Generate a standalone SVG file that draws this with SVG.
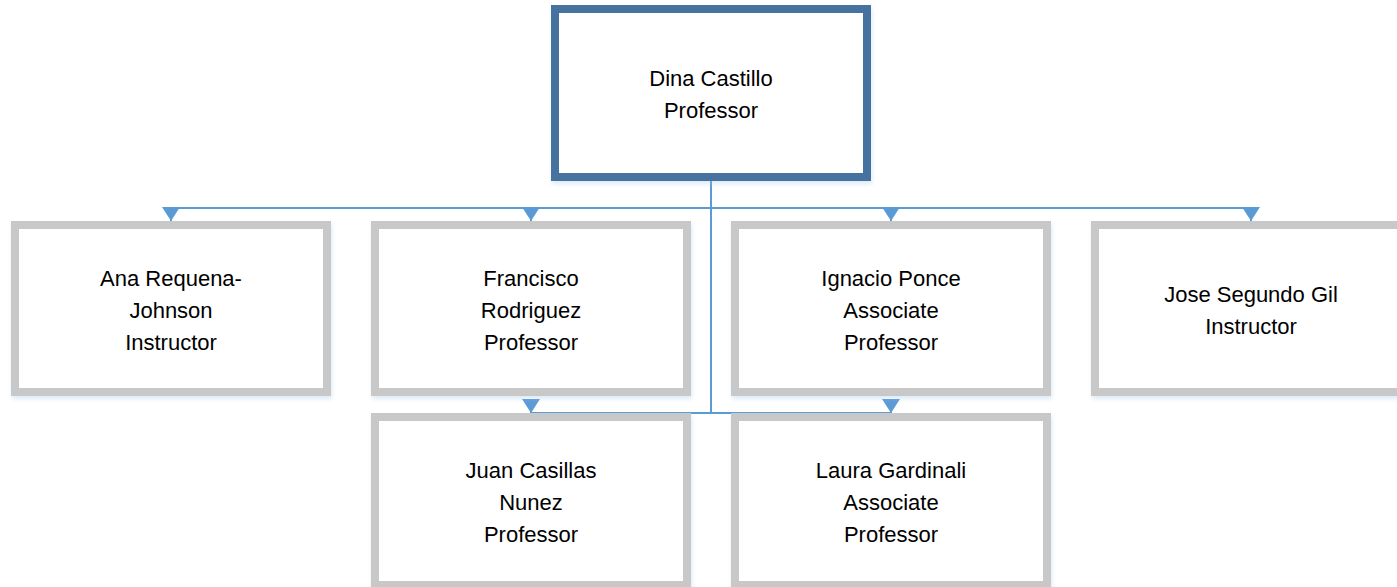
<svg xmlns="http://www.w3.org/2000/svg" width="1397" height="587" viewBox="0 0 1397 587">
<style>
.box{fill:#FFFFFF;stroke:#C8C8C8;stroke-width:8;filter:url(#sh)}
.root{fill:#FFFFFF;stroke:#44729E;stroke-width:8;filter:url(#sh)}
.lbl{font-family:"Liberation Sans",Arial,sans-serif;font-size:22px;fill:#000000;text-anchor:middle}
.conn{fill:none;stroke:#5B9BD5;stroke-width:2;marker-end:url(#arr)}
</style>
<defs>
<filter id="sh" x="-5%" y="-5%" width="115%" height="120%">
<feDropShadow dx="1" dy="3" stdDeviation="2" flood-color="#9DC3E6" flood-opacity="0.35"/>
</filter>
<marker id="arr" markerUnits="userSpaceOnUse" viewBox="0 0 14 18" markerWidth="14" markerHeight="18" refX="14" refY="9" orient="auto">
<path d="M0,0 L14,9 L0,18 z" fill="#5B9BD5"/>
</marker>
</defs>
<g id="connectors">
<path class="conn" d="M711,181 V208 H171 V221"/>
<path class="conn" d="M711,208 H531 V221"/>
<path class="conn" d="M711,208 H891 V221"/>
<path class="conn" d="M711,208 H1251 V221"/>
<path class="conn" d="M711,208 V413 H531 M531,399 V413"/>
<path class="conn" d="M711,413 H891 M891,399 V413"/>
</g>
<g id="dina">
<rect class="root" x="555" y="9" width="312" height="168"/>
<text class="lbl" x="711" y="86">Dina Castillo</text>
<text class="lbl" x="711" y="118">Professor</text>
</g>
<g id="ana">
<rect class="box" x="15" y="225" width="312" height="167"/>
<text class="lbl" x="171" y="286">Ana Requena-</text>
<text class="lbl" x="171" y="318">Johnson</text>
<text class="lbl" x="171" y="350">Instructor</text>
</g>
<g id="francisco">
<rect class="box" x="375" y="225" width="312" height="167"/>
<text class="lbl" x="531" y="286">Francisco</text>
<text class="lbl" x="531" y="318">Rodriguez</text>
<text class="lbl" x="531" y="350">Professor</text>
</g>
<g id="ignacio">
<rect class="box" x="735" y="225" width="312" height="167"/>
<text class="lbl" x="891" y="286">Ignacio Ponce</text>
<text class="lbl" x="891" y="318">Associate</text>
<text class="lbl" x="891" y="350">Professor</text>
</g>
<g id="jose">
<rect class="box" x="1095" y="225" width="312" height="167"/>
<text class="lbl" x="1251" y="302">Jose Segundo Gil</text>
<text class="lbl" x="1251" y="334">Instructor</text>
</g>
<g id="juan">
<rect class="box" x="375" y="417" width="312" height="168"/>
<text class="lbl" x="531" y="478">Juan Casillas</text>
<text class="lbl" x="531" y="510">Nunez</text>
<text class="lbl" x="531" y="542">Professor</text>
</g>
<g id="laura">
<rect class="box" x="735" y="417" width="312" height="168"/>
<text class="lbl" x="891" y="478">Laura Gardinali</text>
<text class="lbl" x="891" y="510">Associate</text>
<text class="lbl" x="891" y="542">Professor</text>
</g>
</svg>
